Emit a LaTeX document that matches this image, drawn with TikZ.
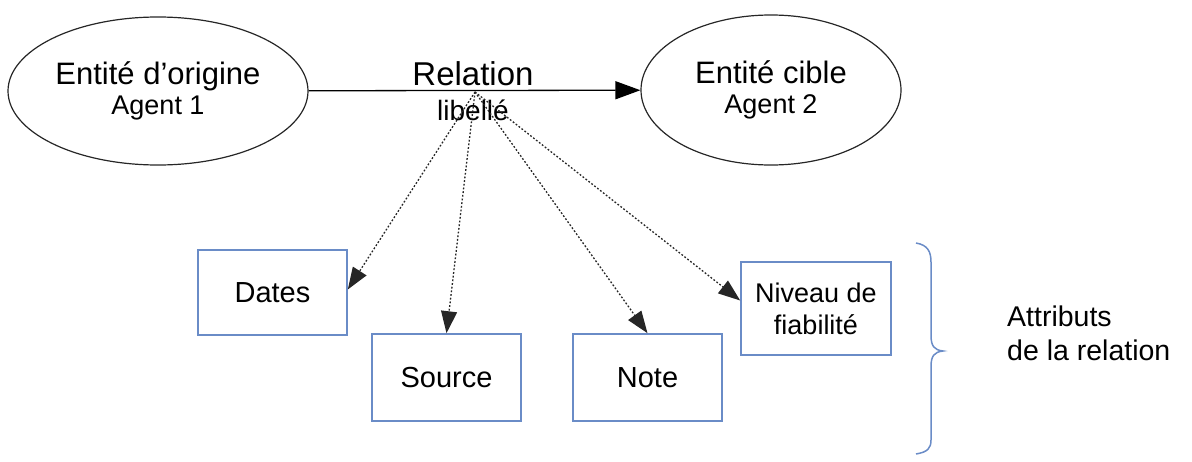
\documentclass[tikz,border=0pt]{standalone}
\usepackage{fontspec}
\setmainfont{Liberation Sans}
\usetikzlibrary{arrows.meta,shapes.geometric,calc}
\definecolor{boxblue}{HTML}{6A8CC7}
\begin{document}
\begin{tikzpicture}[x=1pt,y=-1pt,
  entity/.style={draw=black!85,line width=1.2pt,ellipse,inner sep=0pt,align=center,font=\fontsize{31}{30}\selectfont},
  attrbox/.style={draw=boxblue,line width=1.6pt,rectangle,inner sep=0pt,minimum width=149pt,align=center,font=\fontsize{29}{33}\selectfont},
  mainarrow/.style={line width=1.3pt,-{Triangle[length=25pt,width=18pt]}},
  dotarrow/.style={line width=1.3pt,black!85,dash pattern=on 1.8pt off 1.9pt,-{Triangle[length=22pt,width=16pt]}}
]
\useasboundingbox (0,0) rectangle (1192,461);
\node[entity,minimum width=300pt,minimum height=148pt] (orig) at (158,91)
  {Entité d’origine\\{\fontsize{27}{30}\selectfont Agent 1}};
\node[entity,minimum width=260pt,minimum height=150pt] (cible) at (771,90)
  {Entité cible\\{\fontsize{27}{30}\selectfont Agent 2}};
\draw[mainarrow] (orig) -- (cible);
\node[align=center,inner sep=0pt,font=\fontsize{33}{34.5}\selectfont] (rel) at (473,91)
  {Relation\\{\fontsize{28}{34.5}\selectfont libellé}};
\coordinate (o) at (475,92);
\node[attrbox,minimum height=85pt] (dates) at (272.5,292.5) {Dates};
\node[attrbox,minimum height=87pt] (source) at (446.5,377.5) {Source};
\node[attrbox,minimum height=87pt] (note) at (647.5,377.5) {Note};
\node[attrbox,minimum width=150pt,minimum height=93pt,font=\fontsize{27}{32}\selectfont] (niveau) at (816,308.5) {Niveau de\\fiabilité};
\draw[dotarrow] (o) -- ($(dates.east)+(0,-3)$);
\draw[dotarrow] (o) -- (source.north);
\draw[dotarrow] (o) -- (note.north);
\draw[dotarrow] (o) -- ($(niveau.west)+(0,-8)$);
\draw[boxblue,line width=1.5pt] (916,243) .. controls (928,245) and (931,252) .. (931,262) -- (931,335)
  .. controls (931,346) and (934,350) .. (943,351)
  .. controls (934,352) and (931,356) .. (931,367) -- (931,440)
  .. controls (931,448) and (928,452) .. (916,454);
\node[anchor=west,align=left,inner sep=0pt,font=\fontsize{28.5}{34}\selectfont] (attr) at (1007,333) {Attributs\\de la relation};
\end{tikzpicture}
\end{document}
